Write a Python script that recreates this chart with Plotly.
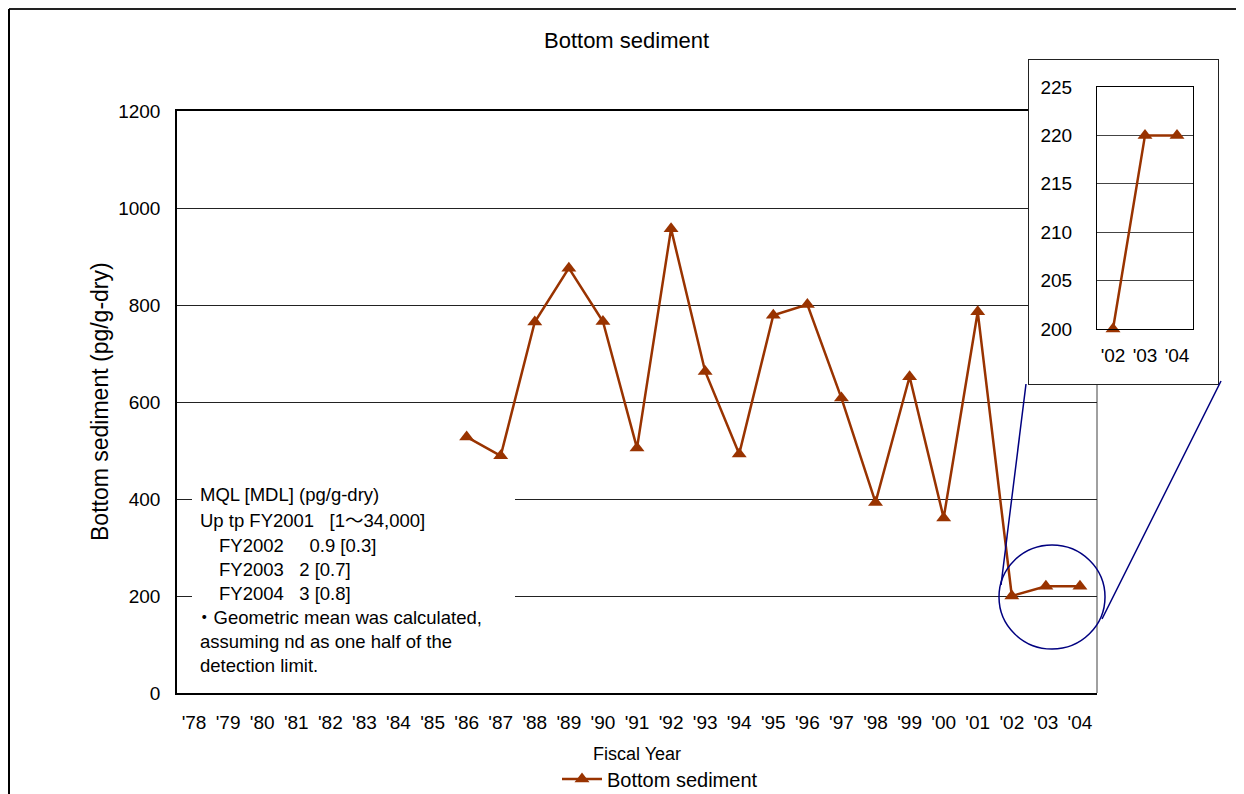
import plotly.graph_objects as go

# ---------------- data ----------------
years = ["'78", "'79", "'80", "'81", "'82", "'83", "'84", "'85", "'86", "'87",
         "'88", "'89", "'90", "'91", "'92", "'93", "'94", "'95", "'96", "'97",
         "'98", "'99", "'00", "'01", "'02", "'03", "'04"]
sediment = [None, None, None, None, None, None, None, None, 528, 489,
            765, 876, 766, 505, 957, 663, 493, 779, 801, 608,
            393, 652, 361, 786, 200, 220, 220]
inset_years = years[-3:]
inset_values = sediment[-3:]
y_ticks = [0, 200, 400, 600, 800, 1000, 1200]
inset_ticks = [200, 205, 210, 215, 220, 225]

note_lines = [
    ("MQL [MDL] (pg/g-dry)", 198, 494),
    ("Up tp FY2001\u00a0\u00a0\u00a0[1\u301c34,000]", 198, 520),
    ("FY2002\u00a0\u00a0\u00a0\u00a0\u00a00.9 [0.3]", 217, 545),
    ("FY2003\u00a0\u00a0\u00a02 [0.7]", 217, 569),
    ("FY2004\u00a0\u00a0\u00a03 [0.8]", 217, 593),
    ("\u30fbGeometric mean was calculated,", 193, 617),
    ("assuming nd as one half of the", 198, 641),
    ("detection limit.", 198, 665),
]

# ---------------- geometry helpers (screen pixel -> paper) ----------------
OFF = 8                      # page body margin
W, H = 1244 - OFF, 794 - OFF
PLOT_L, PLOT_R = 177, 1218   # screen px: left of main plot, right of inset frame
PLOT_T, PLOT_B = 60, 693     # screen px: top of inset frame, bottom of main plot
L = PLOT_L - OFF
R = W - (PLOT_R - OFF)
T = PLOT_T - OFF
B = H - (PLOT_B - OFF)
PW = PLOT_R - PLOT_L
PH = PLOT_B - PLOT_T


def X(px):
    return (px - PLOT_L) / PW


def Y(py):
    return (PLOT_B - py) / PH


FONT = "Liberation Sans, Arial, Noto Sans CJK JP, sans-serif"
BROWN = "#993300"
NAVY = "#000080"

fig = go.Figure()

fig.add_trace(go.Scatter(
    x=years, y=sediment, mode="lines+markers", name="Bottom sediment",
    line=dict(color=BROWN, width=2.5),
    marker=dict(symbol="triangle-up", size=13, color=BROWN),
    cliponaxis=False, connectgaps=False, xaxis="x", yaxis="y",
))
# empty trace that owns the white inset frame subplot
fig.add_trace(go.Scatter(x=[], y=[], xaxis="x2", yaxis="y2", showlegend=False,
                         hoverinfo="skip"))
fig.add_trace(go.Scatter(
    x=inset_years, y=inset_values, mode="lines+markers", showlegend=False,
    line=dict(color=BROWN, width=2.5),
    marker=dict(symbol="triangle-up", size=13, color=BROWN),
    cliponaxis=False, xaxis="x3", yaxis="y3",
))

fig.update_layout(
    width=W, height=H, autosize=False,
    margin=dict(l=L, r=R, t=T, b=B, pad=0, autoexpand=False),
    paper_bgcolor="white", plot_bgcolor="white",
    font=dict(family=FONT, size=19, color="black"),
    showlegend=True,
    legend=dict(orientation="h", x=X(660), y=Y(779), xanchor="center",
                yanchor="middle", bgcolor="rgba(255,255,255,0)",
                font=dict(size=20), itemwidth=40),
    xaxis=dict(domain=[0, X(1097)], type="category", categoryorder="array",
               categoryarray=years, range=[-0.5, len(years) - 0.5],
               showgrid=False, showline=True, mirror=True, linecolor="black",
               linewidth=1.5, ticks="", ticklabelstandoff=11,
               tickfont=dict(size=19), anchor="y", fixedrange=True),
    yaxis=dict(domain=[0, Y(111)], range=[0, 1200], tickvals=y_ticks,
               showgrid=True, gridcolor="#222222", gridwidth=1,
               showline=True, linecolor="black", linewidth=1.5,
               zeroline=False, ticks="", ticklabelstandoff=11,
               tickfont=dict(size=19), anchor="x", fixedrange=True),
    # white frame behind the inset
    xaxis2=dict(domain=[X(1029), 1], range=[0, 1], showgrid=False, zeroline=False,
                showticklabels=False, ticks="", showline=True, mirror=True,
                linecolor="#222222", linewidth=1.3, anchor="y2", fixedrange=True),
    yaxis2=dict(domain=[Y(384), 1], range=[0, 1], showgrid=False, zeroline=False,
                showticklabels=False, ticks="", showline=True, mirror=True,
                linecolor="#222222", linewidth=1.3, anchor="x2", fixedrange=True),
    # inset plot
    xaxis3=dict(domain=[X(1097), X(1193)], type="category", categoryorder="array",
                categoryarray=inset_years, range=[-0.5, 2.5],
                showgrid=False, showline=True, mirror=True, linecolor="black",
                linewidth=1, ticks="", ticklabelstandoff=9,
                tickfont=dict(size=19), anchor="y3", fixedrange=True),
    yaxis3=dict(domain=[Y(329), Y(87)], range=[200, 225], tickvals=inset_ticks,
                showgrid=True, gridcolor="#444444", gridwidth=1,
                showline=True, mirror=True, linecolor="black", linewidth=1,
                zeroline=False, ticks="", ticklabelstandoff=20,
                tickfont=dict(size=19), anchor="x3", fixedrange=True),
)

shapes = []
# outer chart border (top and left)
shapes.append(dict(type="line", xref="paper", yref="paper", x0=X(9), x1=X(1260),
                   y0=Y(9), y1=Y(9), line=dict(color="#222222", width=2), layer="above"))
shapes.append(dict(type="line", xref="paper", yref="paper", x0=X(9), x1=X(9),
                   y0=Y(9), y1=Y(810), line=dict(color="black", width=2), layer="above"))
# main plot right border (grey)
shapes.append(dict(type="line", xref="paper", yref="paper", x0=X(1097), x1=X(1097),
                   y0=Y(111), y1=Y(693), line=dict(color="#808080", width=1.5), layer="below"))
# white note box
shapes.append(dict(type="rect", xref="paper", yref="paper", x0=X(192), x1=X(515),
                   y0=Y(680), y1=Y(483), fillcolor="white", line=dict(width=0), layer="above"))
# zoom circle and connector lines
shapes.append(dict(type="circle", xref="paper", yref="paper", x0=X(999), x1=X(1105),
                   y0=Y(649), y1=Y(545), line=dict(color=NAVY, width=1.5), layer="above"))
shapes.append(dict(type="line", xref="paper", yref="paper", x0=X(1001), y0=Y(585),
                   x1=X(1026), y1=Y(384), line=dict(color=NAVY, width=1.5), layer="above"))
shapes.append(dict(type="line", xref="paper", yref="paper", x0=X(1102), y0=Y(619),
                   x1=X(1221), y1=Y(381), line=dict(color=NAVY, width=1.5), layer="above"))
fig.update_layout(shapes=shapes)

annotations = [
    dict(text="Bottom sediment", x=X(626), y=Y(40), xref="paper", yref="paper",
         xanchor="center", yanchor="middle", showarrow=False, font=dict(size=22)),
    dict(text="Bottom sediment (pg/g-dry)", x=X(100), y=Y(402), xref="paper", yref="paper",
         xanchor="center", yanchor="middle", showarrow=False, textangle=-90,
         font=dict(size=23)),
    dict(text="Fiscal Year", x=X(637), y=Y(754), xref="paper", yref="paper",
         xanchor="center", yanchor="middle", showarrow=False, font=dict(size=18)),
]
for txt, px, py in note_lines:
    annotations.append(dict(text=txt, x=X(px), y=Y(py), xref="paper", yref="paper",
                            xanchor="left", yanchor="middle", showarrow=False,
                            font=dict(size=18.5)))
fig.update_layout(annotations=annotations)

fig.write_html("out.html")
